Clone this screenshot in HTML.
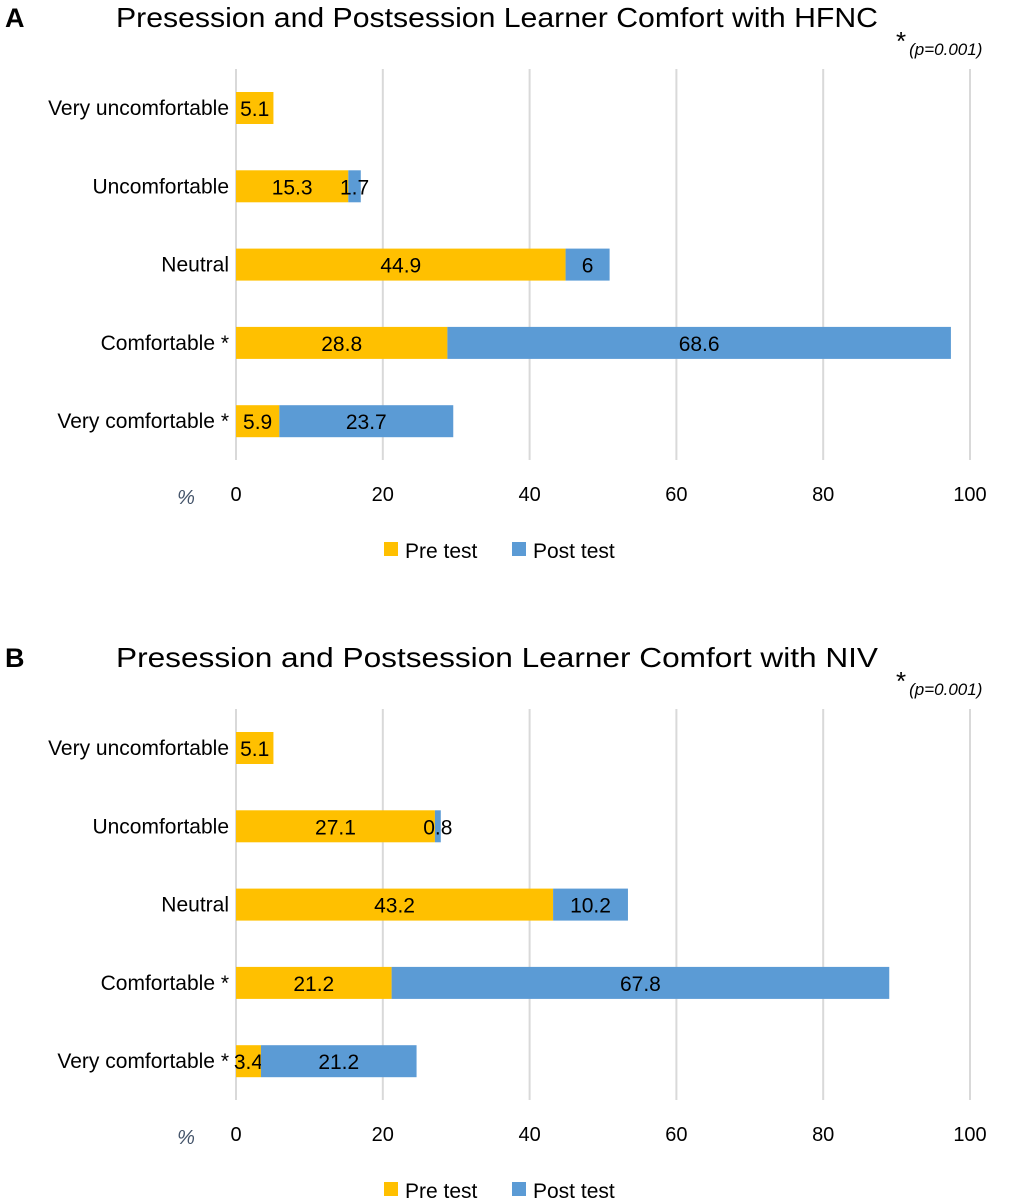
<!DOCTYPE html>
<html><head><meta charset="utf-8">
<style>
html,body{margin:0;padding:0;background:#fff;}
svg{display:block;font-family:"Liberation Sans",sans-serif;}
</style></head>
<body>
<svg id="chart" width="1012" height="1200" viewBox="0 0 1012 1200" xmlns="http://www.w3.org/2000/svg"></svg>
<script>
const categories = ["Very uncomfortable","Uncomfortable","Neutral","Comfortable *","Very comfortable *"];
const preA = [5.1, 15.3, 44.9, 28.8, 5.9];
const postA = [0, 1.7, 6, 68.6, 23.7];
const preB = [5.1, 27.1, 43.2, 21.2, 3.4];
const postB = [0, 0.8, 10.2, 67.8, 21.2];
const ticks = [0, 20, 40, 60, 80, 100];
const titleA = "Presession and Postsession Learner Comfort with HFNC";
const titleB = "Presession and Postsession Learner Comfort with NIV";

const NS = "http://www.w3.org/2000/svg";
const svg = document.getElementById("chart");
const X0 = 236, X1 = 970;
function xs(v){ return X0 + (X1 - X0) * v / 100; }
function mk(tag, attrs, parent){
  const e = document.createElementNS(NS, tag);
  for (const k in attrs) e.setAttribute(k, attrs[k]);
  (parent || svg).appendChild(e);
  return e;
}
function txt(s, attrs, parent){ const t = mk("text", attrs, parent); t.textContent = s; return t; }

function panel(oy, letter, title, pre, post, key){
  const g = mk("g", {});
  
  
  const L = txt(letter, {x: 5, y: oy + 27, "font-size": 27, "font-weight": "bold", fill: "#000"}, g);
  
  
  const T = txt(title, {x: 116, y: oy + 27, "font-size": 28, fill: "#000", textLength: 762, lengthAdjust: "spacingAndGlyphs"}, g);
  
  
  const P = txt("", {x: 896, y: oy + 50, fill: "#000"}, g);
  
  
  const s1 = document.createElementNS(NS, "tspan"); s1.setAttribute("font-size", 26); s1.textContent = "*"; P.appendChild(s1);
  const s2 = document.createElementNS(NS, "tspan"); s2.setAttribute("font-size", 17); s2.setAttribute("font-style", "italic"); s2.setAttribute("dx", 3); s2.setAttribute("dy", 5); s2.textContent = "(p=0.001)"; P.appendChild(s2);
  // gridlines
  ticks.forEach(t => {
    const l = mk("line", {x1: xs(t), x2: xs(t), y1: oy + 69, y2: oy + 460, stroke: "#d9d9d9", "stroke-width": 2}, g);
    
    
    const tl = txt(String(t), {x: xs(t), y: oy + 501, "font-size": 20, "text-anchor": "middle", fill: "#000"}, g);
    
    
  });
  const pc = txt("%", {x: 186, y: oy + 504, "font-size": 20, "font-style": "italic", "text-anchor": "middle", fill: "#44546a"}, g);
  
  
  categories.forEach((c, i) => {
    const cy = oy + 108 + i * 78.3;
    const cl = txt(c, {x: 229, y: cy + 7, "font-size": 21, "text-anchor": "end", fill: "#000"}, g);
    
    
    const a = pre[i], b = post[i];
    const r1 = mk("rect", {x: xs(0), y: cy - 16, width: xs(a) - xs(0), height: 32, fill: "#ffc000"}, g);
    
    
    const v1 = txt(String(a), {x: (xs(0) + xs(a)) / 2, y: cy + 8, "font-size": 21, "text-anchor": "middle", fill: "#000"}, g);
    
    
    if (b > 0) {
      const r2 = mk("rect", {x: xs(a), y: cy - 16, width: xs(a + b) - xs(a), height: 32, fill: "#5b9bd5"}, g);
      
      
      const v2 = txt(String(b), {x: (xs(a) + xs(a + b)) / 2, y: cy + 8, "font-size": 21, "text-anchor": "middle", fill: "#000"}, g);
      
      
    }
  });
  // legend
  const ly = oy + 550;
  const lg = mk("g", {}, g);
  
  
  const s1r = mk("rect", {x: 384, y: ly - 8, width: 14, height: 14, fill: "#ffc000"}, lg);
  
  
  const t1 = txt("Pre test", {x: 405, y: ly + 8, "font-size": 21, fill: "#000"}, lg);
  
  
  const s2r = mk("rect", {x: 512, y: ly - 8, width: 14, height: 14, fill: "#5b9bd5"}, lg);
  
  
  const t2 = txt("Post test", {x: 533, y: ly + 8, "font-size": 21, fill: "#000"}, lg);
  
  
}
panel(0, "A", titleA, preA, postA, "a");
panel(640, "B", titleB, preB, postB, "b");
</script>
</body></html>
